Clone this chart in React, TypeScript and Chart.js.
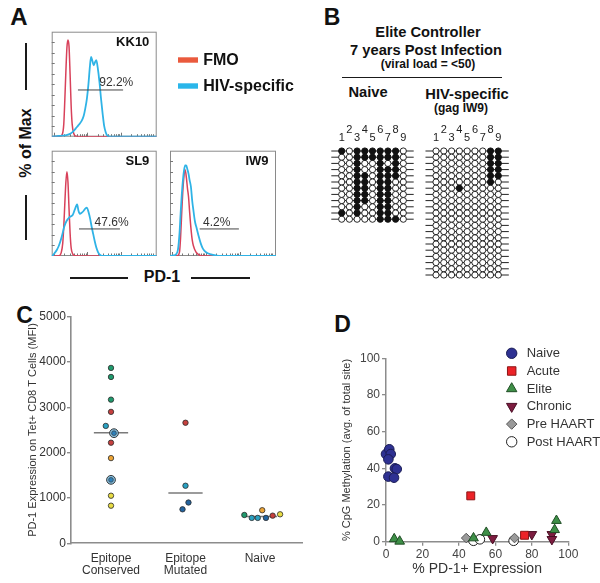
import React, { useEffect, useRef } from "react";
import { Chart, registerables } from "chart.js";

Chart.register(...registerables);

const FONT = "Arial, 'Liberation Sans', Helvetica, sans-serif";

// ---------------- Panel A : PD-1 histograms (x: % of plot width, y: % of Max) ----------------
const HIST_NAMES = ["KK10", "SL9", "IW9"];
const A_LEGEND = ["FMO", "HIV-specific"];
const GATE_LABELS = ["92.2%", "47.6%", "4.2%"];
const GATE_RANGES = [
  [25, 68, 44.5],
  [26, 65, 25.7],
  [28, 65, 25.7],
];
const GATE_TEXT_POS = [
  [61.5, 51],
  [57, 31.3],
  [44, 31.3],
];
const KK10_FMO = [[0,0],[8,0.5],[10,2],[11.5,12],[12.5,35],[13.5,62],[14.5,85],[15.5,92],[16.5,86],[17.5,60],[18.5,30],[19.5,12],[21,3],[23,0.5],[30,0],[100,0]];
const KK10_HIV = [[0,0],[5,0.5],[10,1],[14,1.5],[18,3],[20.5,5],[23,8],[25.5,11],[28.5,15],[30.5,20],[32,27],[33.5,36],[35,50],[36.3,66],[37.5,76],[38.8,72],[40,68],[41.3,71],[42.5,73],[43.8,66],[45.5,52],[47,36],[48.5,22],[50,10],[51.5,4],[53,1],[56,0],[100,0]];
const SL9_FMO = [[0,0],[7,0.3],[9,3],[10.5,12],[11.5,28],[12.5,50],[13.5,70],[14.5,80],[15.5,70],[16.5,45],[17.5,22],[18.5,8],[20,2],[22,0.3],[30,0],[100,0]];
const SL9_HIV = [[0,0],[1,0.5],[3,3],[5,6],[6.5,9],[8.3,14],[10,20],[12,28],[14,33],[17,37],[20,39],[22,44],[24.2,49],[25.5,43],[26.8,40],[28.5,41],[30.5,43],[32,45],[33.6,46],[35,42],[36.5,36],[38,28],[39.5,21],[41,14],[42.5,8],[44,4],[46,1],[48,0],[100,0]];
const IW9_FMO = [[0,0],[7,0.3],[9,4],[10,18],[11,40],[12,60],[13.2,76],[14.3,82],[15.5,74],[16.5,64],[17.5,56],[18.5,42],[19.7,27],[21,15],[22,10],[24.4,4],[27.6,1],[30,0],[100,0]];
const IW9_HIV = [[0,0],[3,0.5],[6,2],[7.5,6],[9,22],[10,40],[11.1,58],[12.2,72],[13.2,81],[14.3,86],[15.3,86],[16.5,82],[17.5,78],[18.5,72],[19.7,66],[21,52],[22,44],[23.5,33],[25,27],[27,19],[29,12],[31,7],[34,3.5],[38.7,1.5],[43.5,0.5],[48,0],[100,0]];
const HIST_FMO = [KK10_FMO, SL9_FMO, IW9_FMO];
const HIST_HIV = [KK10_HIV, SL9_HIV, IW9_HIV];

// ---------------- Panel B : CpG methylation (1 = methylated) ----------------
const B_COLUMNS = ["1", "2", "3", "4", "5", "6", "7", "8", "9"];
const NAIVE_GRID = [
  "101111110",
  "001111110",
  "001001010",
  "001001110",
  "001101110",
  "001101100",
  "001101100",
  "001101100",
  "001101100",
  "001001100",
  "101001100",
  "000001110",
];
const HIV_GRID = [
  "000000011",
  "000000011",
  "000000011",
  "000000011",
  "000000011",
  "000000010",
  "000100000",
  "000000000",
  "000000000",
  "000000000",
  "000000000",
  "000000000",
  "000000000",
  "000000000",
  "000000000",
  "000000000",
  "000000000",
  "000000000",
  "000000000",
  "000000000",
  "000000000",
];

// ---------------- Panel C : PD-1 MFI ----------------
const C_CATEGORIES = [["Epitope", "Conserved"], ["Epitope", "Mutated"], ["Naive"]];
const C_CONSERVED = [3870, 3670, 3170, 2900, 2590, 2220, 1880, 1050, 830];
const C_CONSERVED_DONOR = ["green", "green", "green", "red", "teal", "red", "orange", "yellow", "yellow"];
const C_CONSERVED_JITTER = [0, 0, 0, 0, -0.07, 0, 0, 0, 0];
const C_RINGED = [2430, 1400];
const C_RINGED_JITTER = [0.04, 0];
const C_MUTATED = [2660, 1270, 900, 750];
const C_MUTATED_DONOR = ["red", "teal", "blue", "blue"];
const C_MUTATED_JITTER = [0, 0, 0.04, -0.04];
const C_NAIVE = [625, 560, 560, 560, 730, 610, 640];
const C_NAIVE_DONOR = ["green", "teal", "teal", "blue", "orange", "red", "yellow"];
const C_NAIVE_JITTER = [-0.21, -0.11, -0.03, 0.08, 0.03, 0.17, 0.27];
const C_MEDIANS = [2440, 1110, 590];
const C_Y_TICKS = [0, 1000, 2000, 3000, 4000, 5000];

// ---------------- Panel D : methylation vs PD-1 ----------------
const D_SERIES = ["Naive", "Acute", "Elite", "Chronic", "Pre HAART", "Post HAART"];
const D_NAIVE = [[0, 47.8], [1.8, 50.4], [2.6, 47.8], [1.3, 44.9], [4.9, 40], [5.9, 39.6], [1.3, 35.5], [4.4, 34.9]];
const D_ACUTE = [[46.5, 25], [76, 3.5]];
const D_ELITE = [[4.5, 1.5], [7.5, 0.2], [48, 2], [55, 5], [92.5, 6.5], [93.5, 11.5]];
const D_CHRONIC = [[58.5, 1.8], [80, 4], [91, 4], [91, 1.3]];
const D_PRE = [[44, 2], [70.5, 2]];
const D_POST = [[48, 0.5], [51.5, 1.3], [70, 0.5]];
const D_VALUES = [D_NAIVE, D_ACUTE, D_ELITE, D_CHRONIC, D_PRE, D_POST];

// ---------------- styles ----------------
const FMO_LINE = "#d8415a";
const HIV_LINE = "#2fb3e6";
const FMO_SWATCH = "#ea5a3d";
const HIV_SWATCH = "#2ab6ea";
const DONOR_COLORS: any = {
  green: "#1f9a6d",
  red: "#c6403e",
  teal: "#2aa1c2",
  blue: "#22639f",
  orange: "#eca436",
  yellow: "#e8dc44",
};
const D_STYLES = [
  { shape: "circle", fill: "#2e3192", stroke: "#1b1d55", r: 4.8 },
  { shape: "rect", fill: "#ec2227", stroke: "#8c1515", r: 5.6 },
  { shape: "triangle", fill: "#3e8f47", stroke: "#1f4d24", r: 5.6 },
  { shape: "triangleDown", fill: "#7d1d40", stroke: "#4a0f25", r: 5.6 },
  { shape: "rectRot", fill: "#9a9a9a", stroke: "#555555", r: 4.8 },
  { shape: "circle", fill: "#ffffff", stroke: "#222222", r: 4.8 },
];

function pad(c: any, b: any) {
  return { left: b.x0 - c.l, top: b.y0 - c.t, right: c.l + c.w - b.x1, bottom: c.t + c.h - b.y1 };
}

function drawMarker(ctx: any, shape: string, x: number, y: number, r: number, fill: string, stroke: string, lw: number) {
  ctx.beginPath();
  if (shape === "circle") ctx.arc(x, y, r, 0, Math.PI * 2);
  else if (shape === "rect") {
    const s = r * Math.SQRT1_2;
    ctx.rect(x - s, y - s, 2 * s, 2 * s);
  } else if (shape === "triangle" || shape === "triangleDown") {
    const d = shape === "triangle" ? 1 : -1;
    ctx.moveTo(x, y - d * r);
    ctx.lineTo(x + r * 0.866, y + d * r * 0.5);
    ctx.lineTo(x - r * 0.866, y + d * r * 0.5);
    ctx.closePath();
  } else {
    ctx.moveTo(x, y - r);
    ctx.lineTo(x + r, y);
    ctx.lineTo(x, y + r);
    ctx.lineTo(x - r, y);
    ctx.closePath();
  }
  ctx.fillStyle = fill;
  ctx.fill();
  ctx.lineWidth = lw;
  ctx.strokeStyle = stroke;
  ctx.stroke();
}

// ---------- histogram charts ----------
function histConfig(i: number, padding: any, withLegend: boolean) {
  const g = GATE_RANGES[i];
  const boxPlugin = {
    id: "histBox",
    beforeDatasetsDraw(chart: any) {
      const { ctx, chartArea: a } = chart;
      const xs = chart.scales.x, ys = chart.scales.y;
      ctx.save();
      ctx.strokeStyle = "#8a8a8a";
      ctx.lineWidth = 1;
      ctx.strokeRect(a.left + 0.5, a.top + 0.5, a.right - a.left - 1, a.bottom - a.top - 1);
      ctx.strokeStyle = "#777";
      for (let v = 10; v < 100; v += 10) {
        const y = Math.round(ys.getPixelForValue(v)) + 0.5;
        ctx.beginPath();
        ctx.moveTo(a.left, y);
        ctx.lineTo(a.left + 3, y);
        ctx.stroke();
      }
      for (const d of [2, 34, 66]) {
        for (let k = 1; k <= 9; k++) {
          const v = d + 32 * Math.log10(k);
          if (v >= 99) continue;
          const x = Math.round(xs.getPixelForValue(v)) + 0.5;
          ctx.beginPath();
          ctx.moveTo(x, a.bottom);
          ctx.lineTo(x, a.bottom - (k === 1 ? 4 : 2.5));
          ctx.stroke();
        }
      }
      ctx.restore();
    },
  };
  const textPlugin = {
    id: "histText",
    afterDatasetsDraw(chart: any) {
      const { ctx, chartArea: a } = chart;
      const xs = chart.scales.x, ys = chart.scales.y;
      ctx.save();
      ctx.textBaseline = "middle";
      ctx.fillStyle = "#111";
      ctx.font = `bold 13px ${FONT}`;
      ctx.textAlign = "right";
      ctx.fillText(HIST_NAMES[i], xs.getPixelForValue(93), ys.getPixelForValue(89.5));
      ctx.font = `12px ${FONT}`;
      ctx.fillStyle = "#333";
      ctx.textAlign = "center";
      ctx.fillText(GATE_LABELS[i], xs.getPixelForValue(GATE_TEXT_POS[i][0]), ys.getPixelForValue(GATE_TEXT_POS[i][1]));
      if (withLegend) {
        const cols = [FMO_SWATCH, HIV_SWATCH];
        const dy = [28.3, 54.3];
        for (let k = 0; k < 2; k++) {
          ctx.fillStyle = cols[k];
          ctx.fillRect(a.right + 21.3, a.top + dy[k] - 2.7, 20, 5.4);
          ctx.fillStyle = "#111";
          ctx.font = `bold 16px ${FONT}`;
          ctx.textAlign = "left";
          ctx.fillText(A_LEGEND[k], a.right + 46.5, a.top + dy[k] + 0.5);
        }
      }
      ctx.restore();
    },
  };
  return {
    type: "line",
    data: {
      datasets: [
        {
          label: A_LEGEND[0],
          data: HIST_FMO[i].map(([x, y]) => ({ x, y })),
          borderColor: FMO_LINE,
          borderWidth: 1.5,
          pointRadius: 0,
          cubicInterpolationMode: "monotone",
          fill: false,
          order: 3,
        },
        {
          label: A_LEGEND[1],
          data: HIST_HIV[i].map(([x, y]) => ({ x, y })),
          borderColor: HIV_LINE,
          borderWidth: 1.8,
          pointRadius: 0,
          cubicInterpolationMode: "monotone",
          fill: false,
          order: 2,
        },
        {
          label: "gate",
          data: [{ x: g[0], y: g[2] }, { x: g[1], y: g[2] }],
          borderColor: "#444",
          borderWidth: 1,
          pointRadius: 0,
          order: 1,
        },
      ],
    },
    options: {
      animation: false,
      responsive: false,
      events: [],
      layout: { padding },
      scales: {
        x: { type: "linear", min: 0, max: 100, display: false },
        y: { type: "linear", min: 0, max: 100, display: false },
      },
      plugins: { legend: { display: false }, tooltip: { enabled: false } },
    },
    plugins: [boxPlugin, textPlugin],
  };
}

// ---------- methylation grids ----------
function gridConfig(grid: string[], padding: any) {
  const n = grid.length;
  const filled: any[] = [];
  const open: any[] = [];
  grid.forEach((row, r) =>
    row.split("").forEach((ch, c) => (ch === "1" ? filled : open).push({ x: c + 1, y: r + 1 }))
  );
  const lines = grid.map((_, r) => ({
    data: [{ x: -0.35, y: r + 1 }, { x: 10.35, y: r + 1 }],
    showLine: true,
    borderColor: "#222",
    borderWidth: 1,
    pointRadius: 0,
    clip: false,
    order: 5,
  }));
  const colPlugin = {
    id: "cols",
    afterDraw(chart: any) {
      const { ctx, chartArea: a } = chart;
      const xs = chart.scales.x;
      ctx.save();
      ctx.font = `11px ${FONT}`;
      ctx.fillStyle = "#222";
      ctx.textAlign = "center";
      ctx.textBaseline = "middle";
      B_COLUMNS.forEach((lab, k) => {
        ctx.fillText(lab, xs.getPixelForValue(k + 1), a.top - (k % 2 === 0 ? 13 : 21.5));
      });
      ctx.restore();
    },
  };
  return {
    type: "scatter",
    data: {
      datasets: [
        { data: filled, pointRadius: 3.1, pointBackgroundColor: "#111", pointBorderColor: "#111", pointBorderWidth: 1, clip: false, order: 1 },
        { data: open, pointRadius: 3.1, pointBackgroundColor: "#fff", pointBorderColor: "#111", pointBorderWidth: 0.9, clip: false, order: 1 },
        ...lines,
      ],
    },
    options: {
      animation: false,
      responsive: false,
      events: [],
      layout: { padding },
      scales: {
        x: { type: "linear", min: 1, max: 9, display: false },
        y: { type: "linear", min: 1, max: n, reverse: true, display: false },
      },
      plugins: { legend: { display: false }, tooltip: { enabled: false } },
    },
    plugins: [colPlugin],
  };
}

// ---------- panel C ----------
function cConfig() {
  const dots = (vals: number[], donors: string[], jit: number[], cat: number) => ({
    data: vals.map((v, k) => ({ x: cat + jit[k], y: v })),
    pointRadius: 2.7,
    pointBackgroundColor: donors.map((d) => DONOR_COLORS[d]),
    pointBorderColor: "#2a2a2a",
    pointBorderWidth: 0.8,
    clip: false,
    order: 1,
  });
  const medians = C_MEDIANS.map((m, k) => ({
    data: [{ x: k + 1 - 0.23, y: m }, { x: k + 1 + 0.23, y: m }],
    showLine: true,
    borderColor: "#7a7a7a",
    borderWidth: 1.6,
    pointRadius: 0,
    order: 10,
  }));
  const ringPts = C_RINGED.map((v, k) => ({ x: 1 + C_RINGED_JITTER[k], y: v }));
  return {
    type: "scatter",
    data: {
      datasets: [
        dots(C_CONSERVED, C_CONSERVED_DONOR, C_CONSERVED_JITTER, 1),
        dots(C_MUTATED, C_MUTATED_DONOR, C_MUTATED_JITTER, 2),
        dots(C_NAIVE, C_NAIVE_DONOR, C_NAIVE_JITTER, 3),
        { data: ringPts, pointRadius: 2.4, pointBackgroundColor: "#2d80ba", pointBorderColor: "#333", pointBorderWidth: 0.6, order: 0 },
        { data: ringPts, pointRadius: 4.4, pointBackgroundColor: "#86bfdf", pointBorderColor: "#3a3a3a", pointBorderWidth: 1, order: 2 },
        ...medians,
      ],
    },
    options: {
      animation: false,
      responsive: false,
      events: [],
      layout: { padding: { left: 0, top: 16.7, right: 8, bottom: 0 } },
      scales: {
        x: {
          type: "linear",
          min: 0.463,
          max: 3.564,
          afterBuildTicks: (s: any) => {
            s.ticks = [1, 2, 3].map((v) => ({ value: v }));
          },
          afterFit: (s: any) => {
            s.height = 39.7;
          },
          grid: { display: false, drawTicks: false },
          border: { display: true, color: "#8c8c8c", width: 1.6 },
          ticks: {
            autoSkip: false,
            maxRotation: 0,
            padding: 9,
            color: "#333",
            font: { family: FONT, size: 12, lineHeight: 1.0 },
            callback: (v: any) => C_CATEGORIES[Math.round(v) - 1],
          },
        },
        y: {
          type: "linear",
          min: 0,
          max: 5000,
          afterBuildTicks: (s: any) => {
            s.ticks = C_Y_TICKS.map((v) => ({ value: v }));
          },
          afterFit: (s: any) => {
            s.width = 71;
          },
          grid: { display: true, drawOnChartArea: false, drawTicks: true, tickLength: 4, color: "#8c8c8c", lineWidth: 1.4 },
          border: { display: true, color: "#8c8c8c", width: 1.6 },
          ticks: { padding: 1, color: "#333", font: { family: FONT, size: 12 }, callback: (v: any) => String(v) },
          title: {
            display: true,
            text: "PD-1 Expression on Tet+ CD8 T Cells (MFI)",
            color: "#333",
            font: { family: FONT, size: 11 },
            padding: { top: 26, bottom: 0 },
          },
        },
      },
      plugins: { legend: { display: false }, tooltip: { enabled: false } },
    },
  };
}

// ---------- panel D ----------
function dConfig() {
  const legendPlugin = {
    id: "dLegend",
    afterDraw(chart: any) {
      const { ctx, chartArea: a } = chart;
      ctx.save();
      ctx.font = `13px ${FONT}`;
      ctx.textAlign = "left";
      ctx.textBaseline = "middle";
      D_SERIES.forEach((name, k) => {
        const st = D_STYLES[k];
        const x = a.left + 125.7;
        const y = a.top - 5 + k * 17.7;
        drawMarker(ctx, st.shape, x, y, st.r + 0.4, st.fill, st.stroke, 1);
        ctx.fillStyle = "#333";
        ctx.fillText(name, x + 15, y + 0.5);
      });
      ctx.restore();
    },
  };
  const datasets = D_VALUES.map((vals, k) => {
    const st = D_STYLES[k];
    return {
      label: D_SERIES[k],
      data: vals.map(([x, y]) => ({ x, y })),
      pointStyle: st.shape === "triangleDown" ? "triangle" : st.shape,
      pointRotation: st.shape === "triangleDown" ? 180 : 0,
      pointRadius: st.r,
      pointBackgroundColor: st.fill,
      pointBorderColor: st.stroke,
      pointBorderWidth: 1,
      clip: false,
    };
  });
  return {
    type: "scatter",
    data: { datasets },
    options: {
      animation: false,
      responsive: false,
      events: [],
      layout: { padding: { left: 0, top: 58.3, right: 31.7, bottom: 0 } },
      scales: {
        x: {
          type: "linear",
          min: 0,
          max: 100,
          afterFit: (s: any) => {
            s.height = 41.3;
          },
          grid: { display: true, drawOnChartArea: false, drawTicks: true, tickLength: 4, color: "#8c8c8c", lineWidth: 1.3 },
          border: { display: true, color: "#8c8c8c", width: 1.5 },
          ticks: { stepSize: 20, padding: 2, color: "#444", font: { family: FONT, size: 12 } },
          title: {
            display: true,
            text: "% PD-1+ Expression",
            color: "#333",
            font: { family: FONT, size: 14 },
            padding: { top: 0, bottom: 5.6 },
          },
        },
        y: {
          type: "linear",
          min: 0,
          max: 100,
          afterFit: (s: any) => {
            s.width = 86;
          },
          grid: { display: true, drawOnChartArea: false, drawTicks: true, tickLength: 4, color: "#8c8c8c", lineWidth: 1.3 },
          border: { display: true, color: "#8c8c8c", width: 1.5 },
          ticks: { stepSize: 20, padding: 2, color: "#444", font: { family: FONT, size: 12 } },
          title: {
            display: true,
            text: "% CpG Methylation (avg. of total site)",
            color: "#333",
            font: { family: FONT, size: 11 },
            padding: { top: 40.4, bottom: 0 },
          },
        },
      },
      plugins: { legend: { display: false }, tooltip: { enabled: false } },
    },
    plugins: [legendPlugin],
  };
}

function ChartBox({ left, top, width, height, make }: any) {
  const ref = useRef<HTMLCanvasElement>(null);
  useEffect(() => {
    const chart = new Chart(ref.current as any, make());
    return () => chart.destroy();
  }, []);
  return (
    <canvas
      ref={ref}
      width={width}
      height={height}
      style={{ position: "absolute", left, top, width, height }}
    />
  );
}

function T({ x, y, size, bold = true, rotate = 0, children }: any) {
  return (
    <div
      style={{
        position: "absolute",
        left: x,
        top: y,
        transform: `translate(-50%, -50%) rotate(${rotate}deg)`,
        fontSize: size,
        fontWeight: bold ? 700 : 400,
        whiteSpace: "nowrap",
        lineHeight: 1,
        color: "#111",
      }}
    >
      {children}
    </div>
  );
}

function Bar({ x, y, w, h }: any) {
  return <div style={{ position: "absolute", left: x, top: y, width: w, height: h, background: "#1a1a1a" }} />;
}

export default function App() {
  const kkC = { l: 48, t: 28, w: 252, h: 112 };
  const slC = { l: 48, t: 147, w: 112, h: 112 };
  const iwC = { l: 166, t: 147, w: 114, h: 112 };
  const nvC = { l: 322, t: 120, w: 100, h: 110 };
  const hvC = { l: 418, t: 120, w: 100, h: 165 };
  return (
    <div
      style={{
        position: "absolute",
        left: 0,
        top: 0,
        width: 600,
        height: 583,
        background: "#fff",
        overflow: "hidden",
        fontFamily: FONT,
      }}
    >
      {/* Panel letters */}
      <T x={19} y={17} size={24}>A</T>
      <T x={332} y={17} size={23}>B</T>
      <T x={24.5} y={315} size={23}>C</T>
      <T x={342.5} y={323.5} size={23}>D</T>

      {/* Panel A */}
      <ChartBox left={kkC.l} top={kkC.t} width={kkC.w} height={kkC.h}
        make={() => histConfig(0, pad(kkC, { x0: 51.7, y0: 31.7, x1: 156.7, y1: 136.7 }), true)} />
      <ChartBox left={slC.l} top={slC.t} width={slC.w} height={slC.h}
        make={() => histConfig(1, pad(slC, { x0: 51.7, y0: 150.7, x1: 156.7, y1: 256 }), false)} />
      <ChartBox left={iwC.l} top={iwC.t} width={iwC.w} height={iwC.h}
        make={() => histConfig(2, pad(iwC, { x0: 170, y0: 150.7, x1: 276, y1: 256 }), false)} />
      <T x={26} y={143} size={16} rotate={-90}>% of Max</T>
      <Bar x={24.5} y={43} w={2} h={47} />
      <Bar x={24.5} y={195} w={2} h={45} />
      <T x={162} y={277} size={16}>PD-1</T>
      <Bar x={70} y={276.5} w={58} h={2} />
      <Bar x={191} y={276.5} w={59} h={2} />

      {/* Panel B */}
      <T x={428} y={32} size={14.7}>Elite Controller</T>
      <T x={426} y={50} size={14.7}>7 years Post Infection</T>
      <T x={428} y={64} size={12}>(viral load = &lt;50)</T>
      <Bar x={342} y={76.5} w={160} h={1.6} />
      <T x={368} y={92} size={14.7}>Naive</T>
      <T x={467} y={94} size={14.7}>HIV-specific</T>
      <T x={461} y={108} size={12}>(gag IW9)</T>
      <ChartBox left={nvC.l} top={nvC.t} width={nvC.w} height={nvC.h}
        make={() => gridConfig(NAIVE_GRID, pad(nvC, { x0: 341.7, y0: 151, x1: 403.3, y1: 151 + 11 * 6.2 }))} />
      <ChartBox left={hvC.l} top={hvC.t} width={hvC.w} height={hvC.h}
        make={() => gridConfig(HIV_GRID, pad(hvC, { x0: 436, y0: 151, x1: 498.3, y1: 151 + 20 * 6.2 }))} />

      {/* Panel C */}
      <ChartBox left={0} top={300} width={310} height={283} make={cConfig} />

      {/* Panel D */}
      <ChartBox left={300} top={300} width={300} height={283} make={dConfig} />
    </div>
  );
}
